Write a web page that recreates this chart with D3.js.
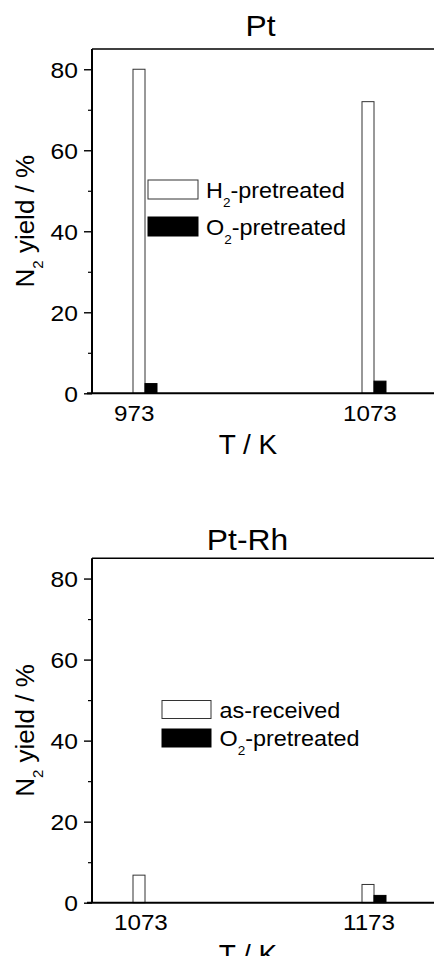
<!DOCTYPE html>
<html>
<head>
<meta charset="utf-8">
<script src="https://cdn.jsdelivr.net/npm/d3@7"></script>
<style>
  body { margin: 0; background: #fff; }
  text { font-family: "Liberation Sans", Arial, sans-serif; fill: #000; }
</style>
</head>
<body>
<svg id="chart"></svg>
<script>
// values (N2 yield, %)
var ptTemps = ["973", "1073"];
var ptH2 = [80, 72];
var ptO2 = [2.4, 3.0];

var rhTemps = ["1073", "1173"];
var rhAsReceived = [6.8, 4.5];
var rhO2 = [0, 1.8];

var yTicks = [0, 20, 40, 60, 80];
var yMinor = [10, 30, 50, 70];
var yMax = 85;

var width = 434, height = 956;
var x0 = 92, x1 = 450;

var svg = d3.select("#chart").attr("width", width).attr("height", height);

var panels = [
  { title: "Pt", titleX: 260.5, titleY: 36, top: 49, bottom: 393.3,
    cats: ptTemps, white: ptH2, black: ptO2,
    legend: ["H_2-pretreated", "O_2-pretreated"],
    leg: { x: 148, w: 50, h: 19, ys: [180, 217], tx: 206 } },
  { title: "Pt-Rh", titleX: 247.5, titleY: 550, top: 558.3, bottom: 902.7,
    cats: rhTemps, white: rhAsReceived, black: rhO2,
    legend: ["as-received", "O_2-pretreated"],
    leg: { x: 162, w: 49, h: 18, ys: [700.5, 729], tx: 219.5 } }
];

// write "H_2-pretreated" as H + subscript 2 + rest
function subText(sel, label, subSize, drop) {
  var parts = label.split("_");
  sel.append("tspan").text(parts[0]);
  if (parts.length > 1) {
    sel.append("tspan").attr("font-size", subSize).attr("dy", drop).text(parts[1].charAt(0));
    sel.append("tspan").attr("dy", -drop).text(parts[1].slice(1));
  }
}

panels.forEach(function(p) {
  var g = svg.append("g");

  var y = d3.scaleLinear().domain([0, yMax]).range([p.bottom, p.top]);
  var x = d3.scalePoint().domain(p.cats).range([x0 + 53, x0 + 282]);
  var bw = 12;

  // title
  g.append("text")
      .attr("transform", "translate(" + p.titleX + "," + p.titleY + ") scale(1.06,1)")
      .attr("text-anchor", "middle")
      .attr("font-size", 30)
      .text(p.title);

  // bars
  g.selectAll(".bw")
      .data(p.cats)
    .enter().append("rect")
      .attr("x", function(d) { return x(d) - bw; })
      .attr("y", function(d, i) { return y(p.white[i]); })
      .attr("width", bw)
      .attr("height", function(d, i) { return y(0) - y(p.white[i]); })
      .attr("fill", "#fff")
      .attr("stroke", "#333")
      .attr("stroke-width", 1);

  g.selectAll(".bb")
      .data(p.cats.filter(function(d, i) { return p.black[i] > 0; }))
    .enter().append("rect")
      .attr("x", function(d) { return x(d); })
      .attr("y", function(d) { return y(p.black[p.cats.indexOf(d)]); })
      .attr("width", bw)
      .attr("height", function(d) { return y(0) - y(p.black[p.cats.indexOf(d)]); })
      .attr("fill", "#000")
      .attr("stroke", "#000")
      .attr("stroke-width", 1);

  // y axis, major and minor ticks
  var ax = g.append("g")
      .attr("transform", "translate(" + x0 + ",0)")
      .call(d3.axisLeft(y).tickValues(yTicks).tickSize(8).tickSizeOuter(0));
  ax.select(".domain").remove();
  ax.selectAll("line").attr("stroke", "#000").attr("stroke-width", 1.4);
  ax.selectAll("text")
      .attr("font-size", 22)
      .attr("font-family", null)
      .attr("x", -14 / 1.12)
      .attr("dy", "0.36em")
      .attr("transform", "scale(1.12,1)");

  var axm = g.append("g")
      .attr("transform", "translate(" + x0 + ",0)")
      .call(d3.axisLeft(y).tickValues(yMinor).tickSize(4).tickFormat(""));
  axm.select(".domain").remove();
  axm.selectAll("line").attr("stroke", "#000").attr("stroke-width", 1.2);

  // frame: top, left, bottom
  g.append("line").attr("x1", x0).attr("x2", x1).attr("y1", p.top).attr("y2", p.top)
      .attr("stroke", "#000").attr("stroke-width", 1.5);
  g.append("line").attr("x1", x0).attr("x2", x0).attr("y1", p.top).attr("y2", p.bottom)
      .attr("stroke", "#000").attr("stroke-width", 2);
  g.append("line").attr("x1", x0 - 5).attr("x2", x1).attr("y1", p.bottom).attr("y2", p.bottom)
      .attr("stroke", "#000").attr("stroke-width", 2);

  // x labels
  g.selectAll(".xl")
      .data(p.cats)
    .enter().append("text")
      .attr("transform", function(d) { return "translate(" + (x(d) - 31) + "," + (p.bottom + 27.5) + ") scale(1.1,1)"; })
      .attr("font-size", 22)
      .text(function(d) { return d; });

  g.append("text")
      .attr("transform", "translate(248," + (p.bottom + 61) + ")")
      .attr("text-anchor", "middle")
      .attr("font-size", 28)
      .text("T / K");

  // y title
  var yt = g.append("text")
      .attr("transform", "translate(33.5," + ((p.top + p.bottom) / 2) + ") rotate(-90)")
      .attr("text-anchor", "middle")
      .attr("font-size", 26);
  subText(yt, "N_2 yield / %", 15, 9);

  // legend
  p.legend.forEach(function(lab, i) {
    g.append("rect")
        .attr("x", p.leg.x).attr("y", p.leg.ys[i])
        .attr("width", p.leg.w).attr("height", p.leg.h)
        .attr("fill", i === 0 ? "#fff" : "#000")
        .attr("stroke", i === 0 ? "#333" : "#000")
        .attr("stroke-width", 1);
    var t = g.append("text")
        .attr("transform", "translate(" + p.leg.tx + "," + (p.leg.ys[i] + p.leg.h - 1) + ") scale(1.04,1)")
        .attr("font-size", 22.5);
    subText(t, lab, 13, 9);
  });
});
</script>
</body>
</html>
